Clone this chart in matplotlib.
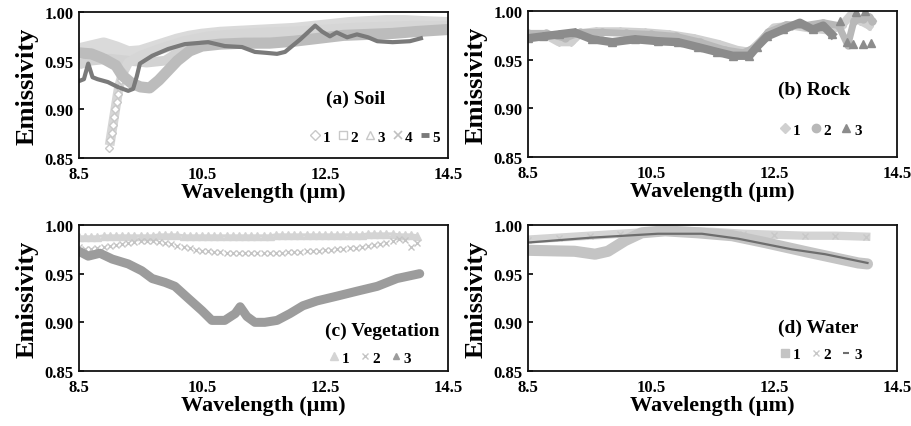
import numpy as np
import matplotlib
matplotlib.use("Agg")
import matplotlib.pyplot as plt
from matplotlib.lines import Line2D

plt.rcParams['font.family'] = ['Liberation Serif', 'DejaVu Serif']
plt.rcParams['font.weight'] = 'bold'

# ---------------- (a) Soil ----------------
soil1_wl = [8.5, 8.7, 8.85, 8.95, 8.99, 9.01, 9.03, 9.05, 9.07, 9.09, 9.11, 9.13, 9.15, 9.18, 9.22,
            9.3, 9.5, 9.8, 10.2, 10.6, 11.0, 11.5, 12.0, 12.5, 13.0, 13.5, 14.0, 14.5]
soil1_em = [0.962, 0.962, 0.958, 0.955, 0.860, 0.868, 0.876, 0.884, 0.892, 0.900, 0.908, 0.916, 0.923, 0.930, 0.938,
            0.948, 0.955, 0.962, 0.970, 0.975, 0.977, 0.979, 0.980, 0.982, 0.984, 0.985, 0.986, 0.985]
soil2_wl = [8.5, 8.7, 9.0, 9.3, 9.6, 9.9, 10.1, 10.3, 10.6, 11.0, 11.5, 12.0, 12.5, 13.0, 13.5, 14.0, 14.5]
soil2_em = [0.946, 0.950, 0.952, 0.950, 0.948, 0.950, 0.958, 0.965, 0.970, 0.972, 0.975, 0.977, 0.980, 0.982, 0.984, 0.985, 0.985]
soil3_wl = [8.5, 8.7, 8.9, 9.1, 9.2, 9.35, 9.5, 9.65, 9.8, 9.95, 10.1, 10.3, 10.5, 10.8, 11.2, 11.6, 12.0,
            12.4, 12.8, 13.2, 13.6, 14.0, 14.5]
soil3_em = [0.958, 0.957, 0.952, 0.945, 0.935, 0.927, 0.923, 0.922, 0.930, 0.940, 0.950, 0.960, 0.965, 0.967, 0.968,
            0.968, 0.970, 0.973, 0.976, 0.977, 0.978, 0.980, 0.982]
soil4_wl = [8.5, 8.7, 8.9, 9.1, 9.3, 9.5, 9.7, 9.9, 10.1, 10.3, 10.5, 10.8, 11.1, 11.4, 11.7, 12.0, 12.3,
            12.6, 12.9, 13.2, 13.5, 13.8, 14.1, 14.5]
soil4_em = [0.960, 0.963, 0.966, 0.962, 0.957, 0.958, 0.962, 0.966, 0.970, 0.973, 0.975, 0.977, 0.978, 0.979,
            0.980, 0.981, 0.983, 0.985, 0.987, 0.988, 0.989, 0.989, 0.988, 0.987]
soil5_wl = [8.5, 8.58, 8.65, 8.72, 8.8, 8.97, 9.13, 9.3, 9.38, 9.44, 9.49, 9.69, 9.95, 10.22, 10.6, 10.87, 11.15,
            11.36, 11.55, 11.72, 11.85, 12.1, 12.34, 12.45, 12.58, 12.69, 12.86, 13.02, 13.2, 13.35, 13.6, 13.88, 14.06]
soil5_em = [0.929, 0.931, 0.947, 0.933, 0.931, 0.928, 0.923, 0.919, 0.921, 0.934, 0.947, 0.955, 0.962, 0.967, 0.969,
            0.965, 0.964, 0.959, 0.958, 0.957, 0.959, 0.972, 0.986, 0.980, 0.975, 0.979, 0.974, 0.977, 0.974, 0.970,
            0.969, 0.970, 0.973]

# ---------------- (b) Rock ----------------
rock1_wl = [8.5, 8.8, 9.0, 9.2, 9.35, 9.6, 10.0, 10.4, 10.8, 11.2, 11.6, 11.9, 12.1, 12.3, 12.5, 12.8, 13.1,
            13.4, 13.6, 13.75, 13.9, 14.05]
rock1_em = [0.976, 0.975, 0.968, 0.968, 0.977, 0.979, 0.979, 0.978, 0.976, 0.972, 0.966, 0.960, 0.958, 0.970,
            0.983, 0.985, 0.982, 0.980, 0.985, 0.996, 0.990, 0.985]
rock2_wl = [8.5, 8.8, 9.1, 9.35, 9.7, 10.1, 10.5, 10.9, 11.3, 11.7, 12.0, 12.2, 12.4, 12.7, 13.0, 13.3, 13.55,
            13.7, 13.8, 13.95, 14.05, 14.1]
rock2_em = [0.977, 0.977, 0.972, 0.978, 0.978, 0.977, 0.976, 0.974, 0.968, 0.960, 0.957, 0.963, 0.978, 0.986,
            0.985, 0.988, 0.985, 0.965, 0.990, 0.992, 0.994, 0.990]
rock3_wl = [8.5, 8.75, 9.0, 9.26, 9.54, 9.87, 10.24, 10.61, 10.94, 11.26, 11.57, 11.83, 12.1, 12.22, 12.39,
            12.65, 12.92, 13.13, 13.3, 13.44, 13.57, 13.68, 13.78, 13.84, 13.95, 13.98, 14.08]
rock3_em = [0.972, 0.974, 0.976, 0.978, 0.971, 0.968, 0.971, 0.969, 0.968, 0.963, 0.958, 0.954, 0.954, 0.963,
            0.974, 0.981, 0.988, 0.981, 0.985, 0.976, 0.990, 0.968, 0.966, 0.999, 0.966, 1.000, 0.967]

# ---------------- (c) Vegetation ----------------
veg_wl = np.round(np.arange(8.5, 14.05, 0.1), 2)
veg1_em = [0.988, 0.988, 0.988, 0.988, 0.989, 0.989, 0.989, 0.989, 0.989, 0.989, 0.989, 0.989, 0.989, 0.990,
           0.990, 0.990, 0.990, 0.989, 0.989, 0.989, 0.989, 0.989, 0.989, 0.989, 0.989, 0.989, 0.989, 0.989,
           0.989, 0.989, 0.989, 0.989, 0.990, 0.990, 0.990, 0.990, 0.990, 0.990, 0.990, 0.990, 0.990, 0.990,
           0.990, 0.990, 0.990, 0.990, 0.990, 0.991, 0.991, 0.991, 0.991, 0.991, 0.990, 0.990, 0.990, 0.989]
veg2_em = [0.977, 0.975, 0.975, 0.976, 0.977, 0.978, 0.979, 0.980, 0.981, 0.983, 0.984, 0.984, 0.984, 0.983,
           0.981, 0.980, 0.978, 0.977, 0.976, 0.974, 0.973, 0.973, 0.972, 0.972, 0.971, 0.971, 0.971, 0.971,
           0.971, 0.971, 0.971, 0.971, 0.971, 0.971, 0.972, 0.972, 0.972, 0.973, 0.973, 0.973, 0.974, 0.974,
           0.975, 0.975, 0.976, 0.976, 0.977, 0.978, 0.979, 0.980, 0.982, 0.984, 0.986, 0.985, 0.977, 0.981]
veg3_wl = [8.5, 8.65, 8.84, 9.04, 9.3, 9.52, 9.69, 9.9, 10.06, 10.27, 10.5, 10.66, 10.87, 11.04, 11.12, 11.23,
           11.36, 11.52, 11.72, 11.93, 12.14, 12.37, 12.7, 13.02, 13.35, 13.67, 14.04]
veg3_em = [0.973, 0.968, 0.971, 0.965, 0.960, 0.953, 0.945, 0.941, 0.937, 0.925, 0.912, 0.902, 0.902, 0.909,
           0.916, 0.906, 0.900, 0.900, 0.902, 0.909, 0.917, 0.922, 0.927, 0.932, 0.937, 0.945, 0.950]

# ---------------- (d) Water ----------------
wat1_wl = [8.5, 9.26, 9.59, 9.8, 10.08, 10.35, 10.73, 11.26, 11.82, 12.35, 13.06, 13.87, 14.02]
wat1_em = [0.974, 0.973, 0.970, 0.973, 0.984, 0.992, 0.994, 0.992, 0.989, 0.982, 0.972, 0.961, 0.960]
wat2_wl = [8.5, 9.0, 9.5, 10.0, 10.5, 11.0, 11.5, 12.0, 12.5, 13.0, 13.5, 14.0]
wat2_em = [0.985, 0.987, 0.989, 0.991, 0.993, 0.994, 0.993, 0.991, 0.990, 0.989, 0.989, 0.988]
wat3_wl = [8.5, 9.53, 10.61, 11.33, 11.91, 12.79, 13.33, 14.02]
wat3_em = [0.982, 0.987, 0.991, 0.991, 0.986, 0.975, 0.970, 0.961]

xticks = [8.5, 10.5, 12.5, 14.5]
yticks = [0.85, 0.90, 0.95, 1.00]

fig = plt.figure(figsize=(9.12, 4.27), dpi=100)
W, H = 912, 427


def make_ax(l, t, r, b):
    ax = fig.add_axes([l / W, 1 - b / H, (r - l) / W, (b - t) / H])
    ax.set_xlim(8.5, 14.5)
    ax.set_ylim(0.85, 1.00)
    ax.set_xticks(xticks)
    ax.set_xticklabels([f"{v:.1f}" for v in xticks])
    ax.set_yticks(yticks)
    ax.set_yticklabels([f"{v:.2f}" for v in yticks])
    ax.tick_params(axis='y', direction='in', length=3.5, width=1.2, pad=4, labelsize=12)
    ax.tick_params(axis='x', length=0, pad=6, labelsize=12)
    for s in ax.spines.values():
        s.set_linewidth(1.3)
        s.set_color('#111111')
    ax.set_xlabel("Wavelength (µm)", fontsize=16, fontweight='bold', labelpad=0)
    ax.set_ylabel("Emissivity", fontsize=19, fontweight='bold', labelpad=4)
    return ax


axA = make_ax(79, 13, 448, 159)
axB = make_ax(528, 12, 897, 158)
axC = make_ax(79, 226, 448, 372)
axD = make_ax(528, 226, 897, 372)

# (a) Soil
axA.plot(soil4_wl, soil4_em, color='#dadada', lw=11, solid_capstyle='butt')
axA.plot(soil2_wl, soil2_em, color='#d2d2d2', lw=7, solid_capstyle='butt')
axA.plot(soil1_wl[5:], soil1_em[5:], color='#d6d6d6', lw=7)
axA.plot(soil1_wl[4:15], soil1_em[4:15], ls='none', marker='D', ms=4.5, mfc='white', mec='#c8c8c8', mew=1)
axA.plot(soil3_wl, soil3_em, color='#bcbcbc', lw=8, solid_capstyle='butt')
axA.plot(soil5_wl, soil5_em, color='#7a7a7a', lw=3)
axA.text(0.669, 0.411, "(a) Soil", transform=axA.transAxes, fontsize=14, fontweight='bold', va='center')
hA = [Line2D([], [], ls='none', marker='D', ms=5, mfc='white', mec='#c8c8c8'),
      Line2D([], [], ls='none', marker='s', ms=6, mfc='white', mec='#c8c8c8'),
      Line2D([], [], ls='none', marker='^', ms=6, mfc='white', mec='#c8c8c8'),
      Line2D([], [], ls='none', marker='x', ms=6, mec='#c0c0c0', mew=1.2),
      Line2D([], [], ls='none', marker='_', ms=6, mec='#7a7a7a', mew=3.5)]
axA.legend(hA, ['1', '2', '3', '4', '5'], ncol=5, loc='center right', bbox_to_anchor=(1.0, 0.144),
           frameon=False, handlelength=0.8, handletextpad=0.1, columnspacing=0.4, borderpad=0,
           prop={'weight': 'bold', 'size': 11})

# (b) Rock
axB.plot(rock1_wl, rock1_em, color='#d0d0d0', lw=6, marker='D', ms=4, mfc='#d0d0d0', mec='#d0d0d0')
axB.plot(rock2_wl, rock2_em, color='#b8b8b8', lw=5, marker='o', ms=5, mfc='#b8b8b8', mec='#b8b8b8')
axB.plot(rock3_wl[:20], rock3_em[:20], color='#8c8c8c', lw=6)
axB.plot(rock3_wl, rock3_em, ls='none', marker='^', ms=5.5, mfc='#8c8c8c', mec='#8c8c8c')
axB.text(0.678, 0.466, "(b) Rock", transform=axB.transAxes, fontsize=14, fontweight='bold', va='center')
hB = [Line2D([], [], ls='none', marker='D', ms=5, mfc='#d0d0d0', mec='#d0d0d0'),
      Line2D([], [], ls='none', marker='o', ms=6, mfc='#b8b8b8', mec='#b8b8b8'),
      Line2D([], [], ls='none', marker='^', ms=6, mfc='#8c8c8c', mec='#8c8c8c')]
axB.legend(hB, ['1', '2', '3'], ncol=3, loc='center left', bbox_to_anchor=(0.66, 0.185),
           frameon=False, handlelength=0.8, handletextpad=0.1, columnspacing=0.6, borderpad=0,
           prop={'weight': 'bold', 'size': 11})

# (c) Vegetation
axC.plot(veg_wl, veg1_em, color='#d4d4d4', lw=2, marker='^', ms=5.5, mfc='#d4d4d4', mec='#d4d4d4')
axC.plot(veg_wl, veg2_em, ls='none', marker='x', ms=5, mec='#c4c4c4', mew=1)
axC.plot(veg3_wl, veg3_em, color='#9c9c9c', lw=6.5, solid_capstyle='round')
axC.text(0.667, 0.281, "(c) Vegetation", transform=axC.transAxes, fontsize=14, fontweight='bold', va='center')
hC = [Line2D([], [], ls='none', marker='^', ms=6, mfc='#d4d4d4', mec='#d4d4d4'),
      Line2D([], [], ls='none', marker='x', ms=5, mec='#c4c4c4'),
      Line2D([], [], ls='none', marker='^', ms=5, mfc='#9c9c9c', mec='#9c9c9c')]
axC.legend(hC, ['1', '2', '3'], ncol=3, loc='center left', bbox_to_anchor=(0.655, 0.09),
           frameon=False, handlelength=0.8, handletextpad=0.1, columnspacing=0.6, borderpad=0,
           prop={'weight': 'bold', 'size': 11})

# (d) Water
axD.plot(wat2_wl, wat2_em, color='#d4d4d4', lw=6, marker='x', ms=5, mec='#c8c8c8')
axD.plot(wat1_wl, wat1_em, color='#c4c4c4', lw=8, solid_capstyle='round')
axD.plot(wat3_wl, wat3_em, color='#6e6e6e', lw=1.6)
axD.text(0.678, 0.301, "(d) Water", transform=axD.transAxes, fontsize=14, fontweight='bold', va='center')
hD = [Line2D([], [], ls='none', marker='s', ms=6, mfc='#c4c4c4', mec='#c4c4c4'),
      Line2D([], [], ls='none', marker='x', ms=5, mec='#c8c8c8'),
      Line2D([], [], ls='none', marker='_', ms=5, mec='#6e6e6e', mew=1.5)]
axD.legend(hD, ['1', '2', '3'], ncol=3, loc='center left', bbox_to_anchor=(0.66, 0.116),
           frameon=False, handlelength=0.8, handletextpad=0.1, columnspacing=0.6, borderpad=0,
           prop={'weight': 'bold', 'size': 11})

fig.savefig("out.png", dpi=100)
